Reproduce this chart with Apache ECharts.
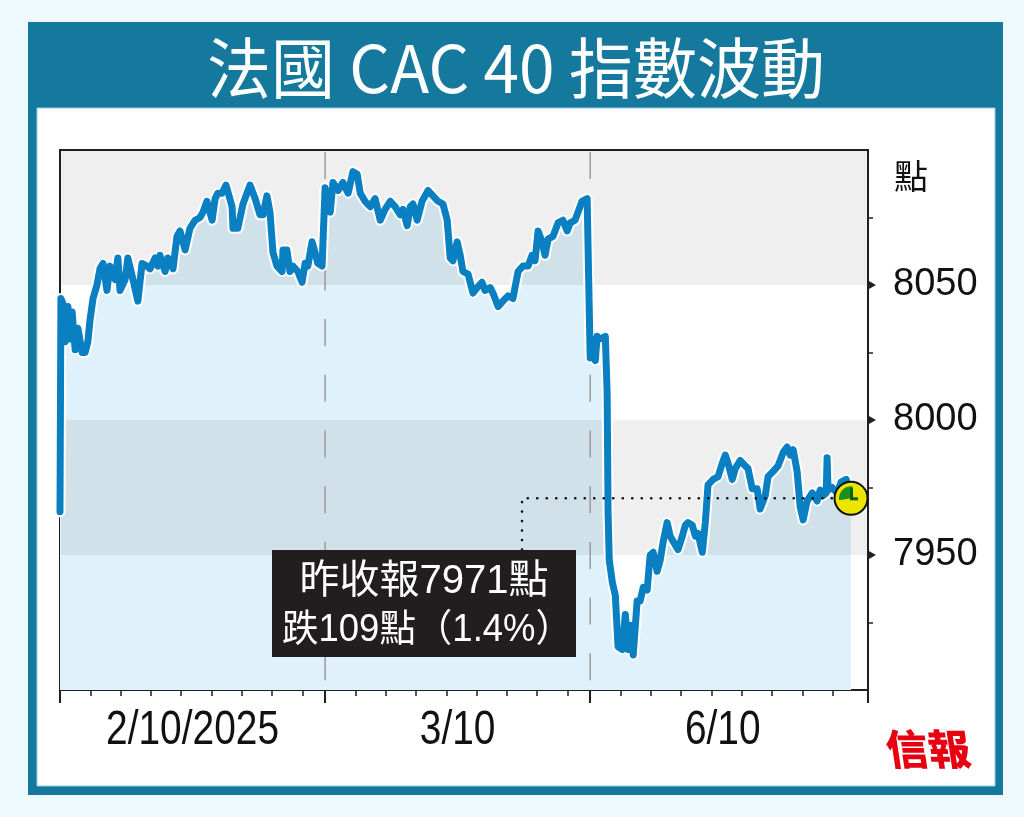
<!DOCTYPE html>
<html><head><meta charset="utf-8">
<script src="https://cdn.jsdelivr.net/npm/echarts@6/dist/echarts.min.js"></script>
<style>html,body{margin:0;padding:0;background:#eef9fd}#c{width:1024px;height:817px}</style>
</head><body><div id="c"></div>
<script>
// ---- data ----
const dayLabels = ['2/10/2025', '3/10', '6/10'];
const dayStarts = [0, 8.75, 17.5];
const xMax = 26.67;
const yTicks = [7950, 8000, 8050];
const yMinorTicks = [7925, 7950, 7975, 8000, 8025, 8050, 8075];

const d1Hours = [0,0.03,0.10,0.17,0.26,0.33,0.40,0.50,0.59,0.73,0.83,0.92,0.99,1.09,1.22,1.32,1.42,1.55,1.65,1.82,1.91,1.98,2.15,2.24,2.41,2.57,2.71,2.87,2.97,3.14,3.23,3.30,3.47,3.56,3.73,3.86,3.96,4.13,4.29,4.46,4.62,4.72,4.85,5.02,5.12,5.21,5.35,5.48,5.68,5.71,5.87,6.04,6.27,6.44,6.60,6.70,6.83,6.93,7.03,7.16,7.33,7.36,7.49,7.59,7.69,7.85,7.99,8.09,8.18,8.32,8.42,8.51,8.65];
const d1Values = [7966,8045,8043,8029,8042,8030,8040,8026,8034,8025,8025,8029,8037,8045,8050,8056,8058,8048,8057,8052,8060,8048,8052,8060,8052,8044,8058,8057,8056,8060,8057,8061,8055,8060,8056,8068,8070,8063,8071,8074,8075,8077,8081,8074,8082,8084,8084,8087,8079,8071,8071,8080,8087,8082,8076,8076,8083,8077,8062,8057,8055,8063,8063,8055,8057,8055,8051,8058,8057,8066,8062,8058,8057];

const d2Hours = [0,0.17,0.26,0.43,0.59,0.76,0.92,1.06,1.16,1.32,1.49,1.65,1.82,1.98,2.15,2.31,2.48,2.57,2.71,2.81,2.90,3.04,3.20,3.40,3.56,3.73,3.89,4.03,4.13,4.22,4.36,4.46,4.55,4.72,4.88,5.02,5.18,5.28,5.45,5.54,5.71,5.87,6.04,6.20,6.37,6.53,6.70,6.83,6.93,7.03,7.16,7.26,7.36,7.52,7.69,7.85,7.99,8.09,8.25,8.35,8.48,8.65];
const d2Values = [8086,8077,8088,8085,8088,8084,8092,8091,8084,8081,8079,8082,8074,8078,8081,8079,8076,8078,8072,8079,8080,8074,8081,8085,8083,8081,8080,8074,8060,8059,8066,8061,8055,8054,8047,8049,8051,8048,8049,8047,8042,8044,8046,8045,8055,8057,8057,8061,8059,8070,8066,8061,8067,8068,8073,8074,8070,8073,8074,8077,8081,8082];

const d3Hours = [0,0.07,0.17,0.23,0.33,0.50,0.56,0.59,0.63,0.73,0.83,0.92,1.06,1.16,1.25,1.32,1.42,1.55,1.65,1.75,1.88,1.98,2.08,2.21,2.31,2.41,2.54,2.64,2.74,2.90,3.04,3.14,3.23,3.37,3.47,3.56,3.70,3.80,3.89,4.06,4.22,4.36,4.46,4.55,4.69,4.79,4.95,5.12,5.21,5.35,5.51,5.61,5.78,5.87,6.04,6.20,6.37,6.50,6.60,6.70,6.83,6.93,7.03,7.16,7.33,7.49,7.59,7.69,7.79,7.82,7.85,7.98,8.15,8.28,8.45,8.61];
const d3Values = [8023,8030,8022,8031,8030,8031,8010,7966,7948,7940,7935,7916,7915,7928,7915,7924,7913,7933,7933,7938,7937,7950,7951,7944,7948,7955,7962,7957,7955,7952,7957,7961,7962,7961,7957,7958,7951,7962,7976,7978,7979,7984,7987,7984,7978,7982,7985,7983,7982,7974.5,7974.5,7967,7972,7979,7981,7983,7988,7990,7987,7989,7981,7968,7963,7970,7973,7970,7974,7972,7973,7986,7974,7975,7973,7977,7978,7971];

const closeValue = 7971;
const annoLines = ['昨收報7971點', '跌109點（1.4%）'];
const annoDayIndex = 1, annoHour = 6.5, annoBottomValue = 7952;

// ---- build ----
const allDays = [[d1Hours, d1Values], [d2Hours, d2Values], [d3Hours, d3Values]];
const lineData = [];
allDays.forEach(([hs, vs], i) => hs.forEach((h, j) => lineData.push([dayStarts[i] + h, vs[j]])));
const last = lineData[lineData.length - 1];
const minorTicks = [];
dayStarts.forEach(s => { for (let k = 1; k <= 8; k++) minorTicks.push(+(s + k).toFixed(2)); });
const majorTicks = dayStarts.concat([xMax]);
const labelPos = dayStarts.map(s => s + 4.375);
const annoX = dayStarts[annoDayIndex] + annoHour;

const chart = echarts.init(document.getElementById('c'));
const dark = '#231f20';
const cjk = "'Liberation Sans', 'Noto Sans CJK TC', sans-serif";
chart.setOption({
  backgroundColor: '#eef9fd',
  animation: false,
  grid: { left: 60, right: 156, top: 150, bottom: 127, show: true, borderColor: dark, borderWidth: 2, backgroundColor: 'transparent' },
  xAxis: [{
    type: 'value', min: 0, max: xMax, position: 'bottom',
    axisLine: { show: true, onZero: false, lineStyle: { color: dark, width: 2 } },
    axisTick: { show: true, customValues: majorTicks, length: 13, lineStyle: { color: dark, width: 2 } },
    axisLabel: { show: false },
    splitLine: { show: false }
  }, {
    type: 'value', min: 0, max: xMax, position: 'bottom', gridIndex: 0,
    axisLine: { show: false, onZero: false },
    axisTick: { show: true, customValues: minorTicks, length: 6, lineStyle: { color: dark, width: 1.5 } },
    axisLabel: { show: false }, splitLine: { show: false }
  }],
  yAxis: {
    type: 'value', min: 7900, max: 8100, interval: 25, position: 'right',
    axisLine: { show: true, onZero: false, lineStyle: { color: dark, width: 2 } },
    axisTick: { show: true, length: 5, customValues: yMinorTicks, lineStyle: { color: dark, width: 1.5 } },
    axisLabel: { margin: 25, color: '#111', fontFamily: "'Liberation Sans', Arial, sans-serif", fontSize: 38,
      formatter: v => (yTicks.indexOf(v) >= 0 ? String(v) : '') },
    splitLine: { show: false }
  },
  series: [
    { type: 'line', data: lineData, showSymbol: false, z: 1, lineStyle: { width: 0 },
      areaStyle: { color: '#dff1fa', opacity: 1, origin: 'start' }, silent: true },
    { type: 'custom', z: 2, silent: true, data: [[7950, 8000], [8050, 8100]],
      renderItem: (params, api) => {
        const p1 = api.coord([0, api.value(1)]), p2 = api.coord([xMax, api.value(0)]);
        return { type: 'rect', shape: { x: p1[0] + 1, y: p1[1], width: p2[0] - p1[0] - 2, height: p2[1] - p1[1] },
          style: { fill: 'rgba(0,0,0,0.063)' } };
      } },
    { type: 'custom', z: 3, silent: true, data: [[dayStarts[1], 0], [dayStarts[2], 0]],
      renderItem: (params, api) => {
        const a = api.coord([api.value(0), 8100]), b = api.coord([api.value(0), 7900]);
        return { type: 'line', shape: { x1: a[0], y1: a[1] + 2, x2: b[0], y2: b[1] },
          style: { stroke: '#9a9a9a', lineWidth: 1.5, lineDash: [27, 28.7] } };
      } },
    { type: 'line', data: lineData, showSymbol: false, z: 5, silent: true,
      lineStyle: { color: '#ffffff', width: 11, join: 'round', cap: 'round' } },
    { type: 'line', data: lineData, showSymbol: false, z: 6, silent: true,
      lineStyle: { color: '#0a80c2', width: 7, join: 'round', cap: 'round' } },
    { type: 'custom', z: 7, silent: true, data: [[annoX, closeValue]],
      renderItem: (params, api) => {
        const p0 = api.coord([annoX, annoBottomValue]), p1 = api.coord([annoX, closeValue]), p2 = api.coord([last[0], closeValue]);
        return { type: 'polyline', shape: { points: [p0, p1, p2] },
          style: { stroke: '#111', lineWidth: 2.6, lineDash: [0.1, 9.4], lineCap: 'round', fill: null } };
      } },
    { type: 'scatter', z: 8, silent: true, data: [[last[0], closeValue]], symbolSize: 33,
      itemStyle: { color: '#ece500', borderColor: '#111', borderWidth: 2, opacity: 1 } },
    { type: 'custom', z: 9, silent: true, data: [[last[0], closeValue]],
      renderItem: (params, api) => {
        const c = api.coord([api.value(0), api.value(1)]);
        return { type: 'group', children: [
          { type: 'sector', shape: { cx: c[0], cy: c[1], r: 12, r0: 0, startAngle: Math.PI * 0.95, endAngle: Math.PI * 1.55 },
            style: { fill: '#1d8f1d' } },
          { type: 'rect', shape: { x: c[0] - 1, y: c[1] - 10, width: 3, height: 10 }, style: { fill: '#0c5f0c' } },
          { type: 'rect', shape: { x: c[0] - 1, y: c[1] - 1, width: 8, height: 3 }, style: { fill: '#0c5f0c' } }
        ] };
      } },
    { type: 'custom', z: 9, silent: true, clip: false, data: yTicks.map(v => [xMax, v]),
      renderItem: (params, api) => {
        const c = api.coord([api.value(0), api.value(1)]);
        return { type: 'polygon', shape: { points: [[c[0], c[1] - 4.5], [c[0] + 8, c[1]], [c[0], c[1] + 4.5]] },
          style: { fill: dark } };
      } },
    { type: 'custom', z: 9, silent: true, clip: false, data: labelPos.map((p, i) => [p, 7900, i]),
      renderItem: (params, api) => {
        const c = api.coord([api.value(0), api.value(1)]);
        return { type: 'text', x: c[0], y: c[1] + 41, scaleX: 0.81,
          style: { text: dayLabels[api.value(2)], fill: '#111', fontSize: 48,
            fontFamily: "'Liberation Sans', Arial, sans-serif", align: 'center', verticalAlign: 'middle' } };
      } }
  ],
  graphic: [
    { type: 'rect', z: -20, shape: { x: 28, y: 22, width: 975, height: 773 }, style: { fill: '#14799c' } },
    { type: 'rect', z: -19, shape: { x: 37, y: 108, width: 958, height: 678 }, style: { fill: '#ffffff', stroke: '#8fd0e6', lineWidth: 1 } },
    { type: 'text', z: 50, x: 516, y: 68, scaleX: 0.97, style: { text: '法國 CAC 40 指數波動', fill: '#ffffff', fontSize: 66,
      fontFamily: "'Noto Sans CJK TC', sans-serif", textAlign: 'center', textVerticalAlign: 'middle' } },
    { type: 'text', z: 50, x: 911, y: 176, style: { text: '點', fill: '#111', fontSize: 34,
      fontFamily: "'Noto Sans CJK TC', sans-serif", textAlign: 'center', textVerticalAlign: 'middle' } },
    { type: 'rect', z: 60, shape: { x: 272, y: 550, width: 304, height: 107 }, style: { fill: '#221e1f' } },
    { type: 'text', z: 61, x: 424, y: 582, style: { text: annoLines[0], fill: '#ffffff', fontSize: 40,
      fontFamily: cjk, textAlign: 'center', textVerticalAlign: 'middle' } },
    { type: 'text', z: 61, x: 427, y: 631, scaleX: 0.96, style: { text: annoLines[1], fill: '#ffffff', fontSize: 38,
      fontFamily: cjk, textAlign: 'center', textVerticalAlign: 'middle' } },
    { type: 'text', z: 50, x: 928, y: 749, skewX: 0.15, style: { text: '信報', fill: '#e60012', fontSize: 42, fontWeight: 900,
      fontFamily: "'Noto Sans CJK TC', sans-serif", textAlign: 'center', textVerticalAlign: 'middle' } }
  ]
});
</script></body></html>
